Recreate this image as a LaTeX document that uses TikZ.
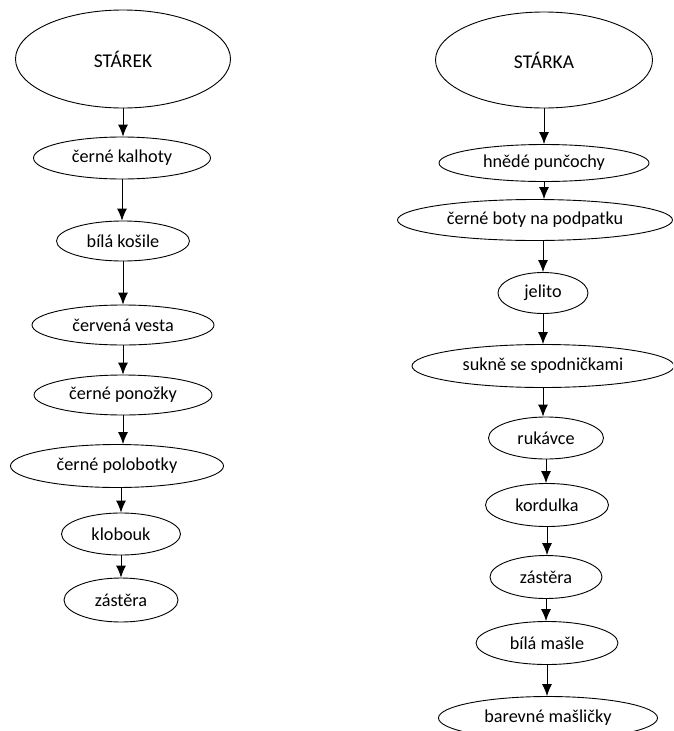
\documentclass[tikz,border=0pt]{standalone}
\usepackage{fontspec}
\setmainfont{Carlito}
\usetikzlibrary{shapes.geometric,arrows.meta}

\begin{document}
\begin{tikzpicture}[x=1pt,y=-1pt,line width=0.9pt,>={Latex[length=12pt,width=10pt]},
    item/.style={ellipse,draw,inner sep=0pt,font=\fontsize{18.2}{21}\selectfont},
    head/.style={item,font=\fontsize{19.5}{24}\selectfont}]
    \clip (0,0) rectangle (673,731);

    \begin{scope}
        % Starek
        \node[head,minimum width=215pt,minimum height=98pt] (starek) at (123,59) {STÁREK};
        \node[item,minimum width=177pt,minimum height=42pt] (kalhoty) at (122,158) {černé kalhoty};
        \node[item,minimum width=133pt,minimum height=40pt] (kosile) at (123,241) {bílá košile};
        \node[item,minimum width=182pt,minimum height=40pt] (vesta) at (123,325) {červená vesta};
        \node[item,minimum width=178pt,minimum height=40pt] (ponozky) at (123,395) {černé ponožky};
        \node[item,minimum width=213pt,minimum height=43pt] (polobotky) at (117,466) {černé polobotky};
        \node[item,minimum width=119pt,minimum height=42pt] (klobouk) at (121,534) {klobouk};
        \node[item,minimum width=114pt,minimum height=44pt] (zasteraA) at (121,600) {zástěra};
        \draw[->] (starek) -- (starek |- kalhoty.north);
        \draw[->] (kalhoty) -- (kalhoty |- kosile.north);
        \draw[->] (kosile) -- (kosile |- vesta.north);
        \draw[->] (vesta) -- (vesta |- ponozky.north);
        \draw[->] (ponozky) -- (ponozky |- polobotky.north);
        \draw[->] (klobouk |- polobotky.south) -- (klobouk);
        \draw[->] (klobouk) -- (klobouk |- zasteraA.north);
    \end{scope}

    \begin{scope}
        % Starka
        \node[head,minimum width=217pt,minimum height=96pt] (starka) at (544,60) {STÁRKA};
        \node[item,minimum width=210pt,minimum height=37pt] (puncochy) at (544,163) {hnědé punčochy};
        \node[item,minimum width=275pt,minimum height=41pt] (boty) at (535,220) {černé boty na podpatku};
        \node[item,minimum width=90pt,minimum height=41pt] (jelito) at (543,293) {jelito};
        \node[item,minimum width=262pt,minimum height=43pt] (sukne) at (543,366) {sukně se spodničkami};
        \node[item,minimum width=115pt,minimum height=42pt] (rukavce) at (546,438) {rukávce};
        \node[item,minimum width=123pt,minimum height=43pt] (kordulka) at (547,505) {kordulka};
        \node[item,minimum width=112pt,minimum height=43pt] (zasteraB) at (546,577) {zástěra};
        \node[item,minimum width=142pt,minimum height=43pt] (masle) at (547,643) {bílá mašle};
        \node[item,minimum width=219pt,minimum height=43pt] (maslicky) at (548,718) {barevné mašličky};
        \draw[->] (starka) -- (starka |- puncochy.north);
        \draw[->] (puncochy) -- (puncochy |- boty.north);
        \draw[->] (jelito |- boty.south) -- (jelito);
        \draw[->] (jelito) -- (jelito |- sukne.north);
        \draw[->] (sukne) -- (sukne |- rukavce.north);
        \draw[->] (rukavce) -- (rukavce |- kordulka.north);
        \draw[->] (kordulka) -- (kordulka |- zasteraB.north);
        \draw[->] (zasteraB) -- (zasteraB |- masle.north);
        \draw[->] (masle) -- (masle |- maslicky.north);
    \end{scope}

\end{tikzpicture}
\end{document}
